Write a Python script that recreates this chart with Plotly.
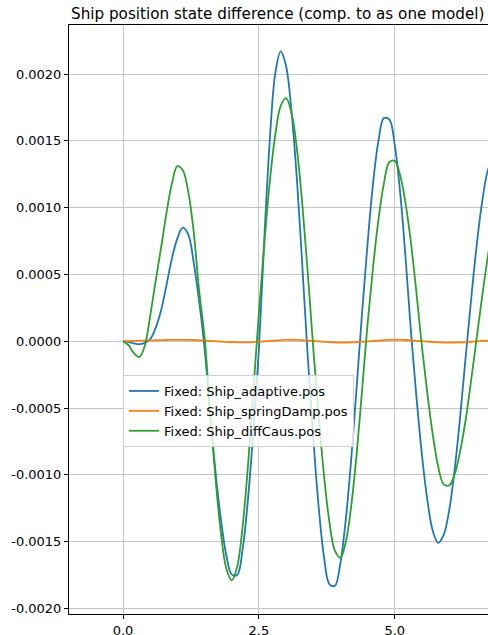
import plotly.graph_objects as go

time = [0.0, 0.1, 0.2, 0.3, 0.4, 0.5, 0.6, 0.7, 0.8, 0.9,
        1.0, 1.1, 1.2, 1.3, 1.4, 1.5, 1.6, 1.7, 1.8, 1.9,
        2.0, 2.1, 2.2, 2.3, 2.4, 2.5, 2.6, 2.7, 2.8, 2.9,
        3.0, 3.1, 3.2, 3.3, 3.4, 3.5, 3.6, 3.7, 3.8, 3.9,
        4.0, 4.1, 4.2, 4.3, 4.4, 4.5, 4.6, 4.7, 4.8, 4.9,
        5.0, 5.1, 5.2, 5.3, 5.4, 5.5, 5.6, 5.7, 5.8, 5.9,
        6.0, 6.1, 6.2, 6.3, 6.4, 6.5, 6.6, 6.7, 6.8]

adaptive = [0.0, -0.000006, -0.000016, -0.000022, -0.000012, 0.000015, 0.0001, 0.00023, 0.00042, 0.00062,
            0.00077, 0.00085, 0.0008, 0.00059, 0.0003, -0.00005, -0.00053, -0.00097, -0.00133, -0.0016,
            -0.001745, -0.00175, -0.00156, -0.00118, -0.00066, -0.00006, 0.00077, 0.0015, 0.002, 0.00217,
            0.00206, 0.00172, 0.00121, 0.00056, -0.00012, -0.00072, -0.00124, -0.00162, -0.00182, -0.00183,
            -0.00166, -0.00133, -0.00088, -0.00034, 0.00022, 0.00073, 0.00118, 0.0015, 0.00167, 0.00166,
            0.00147, 0.00111, 0.00062, 0.00006, -0.00042, -0.00085, -0.00119, -0.00142, -0.00151, -0.00145,
            -0.00127, -0.00097, -0.00058, -0.00014, 0.00029, 0.00069, 0.00102, 0.00126, 0.00138]

spring_damp = [0.0, 0.000001, 0.000002, 0.000004, 0.000005, 0.000006, 0.000007, 0.000008, 0.000009, 0.00001,
               0.00001, 0.00001, 0.00001, 0.000009, 0.000007, 0.000005, 0.000003, 0.0, -0.000003, -0.000005,
               -0.000007, -0.000008, -0.000009, -0.000008, -0.000006, -0.000004, -0.000001, 0.000002, 0.000005, 0.000008,
               0.00001, 0.000011, 0.00001, 0.000008, 0.000005, 0.000002, -0.000001, -0.000004, -0.000007, -0.000009,
               -0.00001, -0.00001, -0.000009, -0.000007, -0.000004, -0.000001, 0.000002, 0.000005, 0.000008, 0.00001,
               0.000011, 0.00001, 0.000009, 0.000006, 0.000003, 0.0, -0.000003, -0.000006, -0.000008, -0.00001,
               -0.00001, -0.00001, -0.000009, -0.000007, -0.000004, -0.000001, 0.000002, 0.000004, 0.000006]

diff_caus = [0.0, -0.00003, -0.00009, -0.000118, -0.000035, 0.00019, 0.00045, 0.0007, 0.00096, 0.00118,
             0.00131, 0.00128, 0.00112, 0.00082, 0.00038, 0.00003, -0.00051, -0.00102, -0.00143, -0.0017,
             -0.00179, -0.00169, -0.00139, -0.00093, -0.00036, 0.00021, 0.00073, 0.00119, 0.00154, 0.00176,
             0.00182, 0.00171, 0.00144, 0.00102, 0.00051, -0.00005, -0.00056, -0.00101, -0.00136, -0.00157,
             -0.00162, -0.0015, -0.00123, -0.00084, -0.00036, 0.00013, 0.00055, 0.00091, 0.00118, 0.00134,
             0.00135, 0.00124, 0.00103, 0.00073, 0.00036, -0.00004, -0.00039, -0.0007, -0.00094, -0.00107,
             -0.00108, -0.001, -0.00083, -0.0006, -0.00031, 0.0, 0.00031, 0.0006, 0.00085]

series_names = ["Fixed: Ship_adaptive.pos", "Fixed: Ship_springDamp.pos", "Fixed: Ship_diffCaus.pos"]
series_colors = ["#1f77b4", "#ff7f0e", "#2ca02c"]

y_tickvals = [0.002, 0.0015, 0.001, 0.0005, 0.0, -0.0005, -0.001, -0.0015, -0.002]
y_ticktext = ["0.0020", "0.0015", "0.0010", "0.0005", "0.0000", "-0.0005", "-0.0010", "-0.0015", "-0.0020"]
x_tickvals = [0.0, 2.5, 5.0, 7.5]
x_ticktext = ["0.0", "2.5", "5.0", "7.5"]

title_text = "Ship position state difference (comp. to as one model)"

FONT = "DejaVu Sans"

fig = go.Figure()
for name, ys, col in zip(series_names, [adaptive, spring_damp, diff_caus], series_colors):
    fig.add_trace(go.Scatter(x=time, y=ys, mode="lines", name=name,
                             line=dict(color=col, width=1.8, shape="spline", smoothing=1.0)))

fig.update_layout(
    width=488, height=635,
    margin=dict(l=69, r=0, t=25, b=21, autoexpand=False),
    paper_bgcolor="white", plot_bgcolor="white",
    font=dict(family=FONT, size=13, color="black"),
    title=dict(text=title_text, x=71 / 488, xanchor="left", xref="container",
               y=1 - 14 / 635, yanchor="middle", yref="container",
               font=dict(family=FONT, size=15.2, color="black")),
    showlegend=True,
    legend=dict(x=(123 - 69) / 419, y=(614 - 375) / 589, xanchor="left", yanchor="top",
                bgcolor="rgba(255,255,255,0.8)", bordercolor="#d0d0d0", borderwidth=1,
                font=dict(family=FONT, size=13, color="black"), tracegroupgap=0),
    xaxis=dict(range=[-0.994, 6.716], tickvals=x_tickvals, ticktext=x_ticktext,
               showgrid=True, gridcolor="#c4c4c4", gridwidth=1,
               showline=True, linecolor="black", linewidth=1, mirror=True,
               ticks="outside", ticklen=4, tickcolor="black", zeroline=False,
               automargin=False),
    yaxis=dict(range=[-0.002042, 0.002367], tickvals=y_tickvals, ticktext=y_ticktext,
               showgrid=True, gridcolor="#c4c4c4", gridwidth=1,
               showline=True, linecolor="black", linewidth=1,
               ticks="outside", ticklen=4, tickcolor="black", zeroline=False,
               automargin=False),
)

fig.write_html("out.html", config={"displayModeBar": False},
               post_script="document.body.style.margin='0';")
